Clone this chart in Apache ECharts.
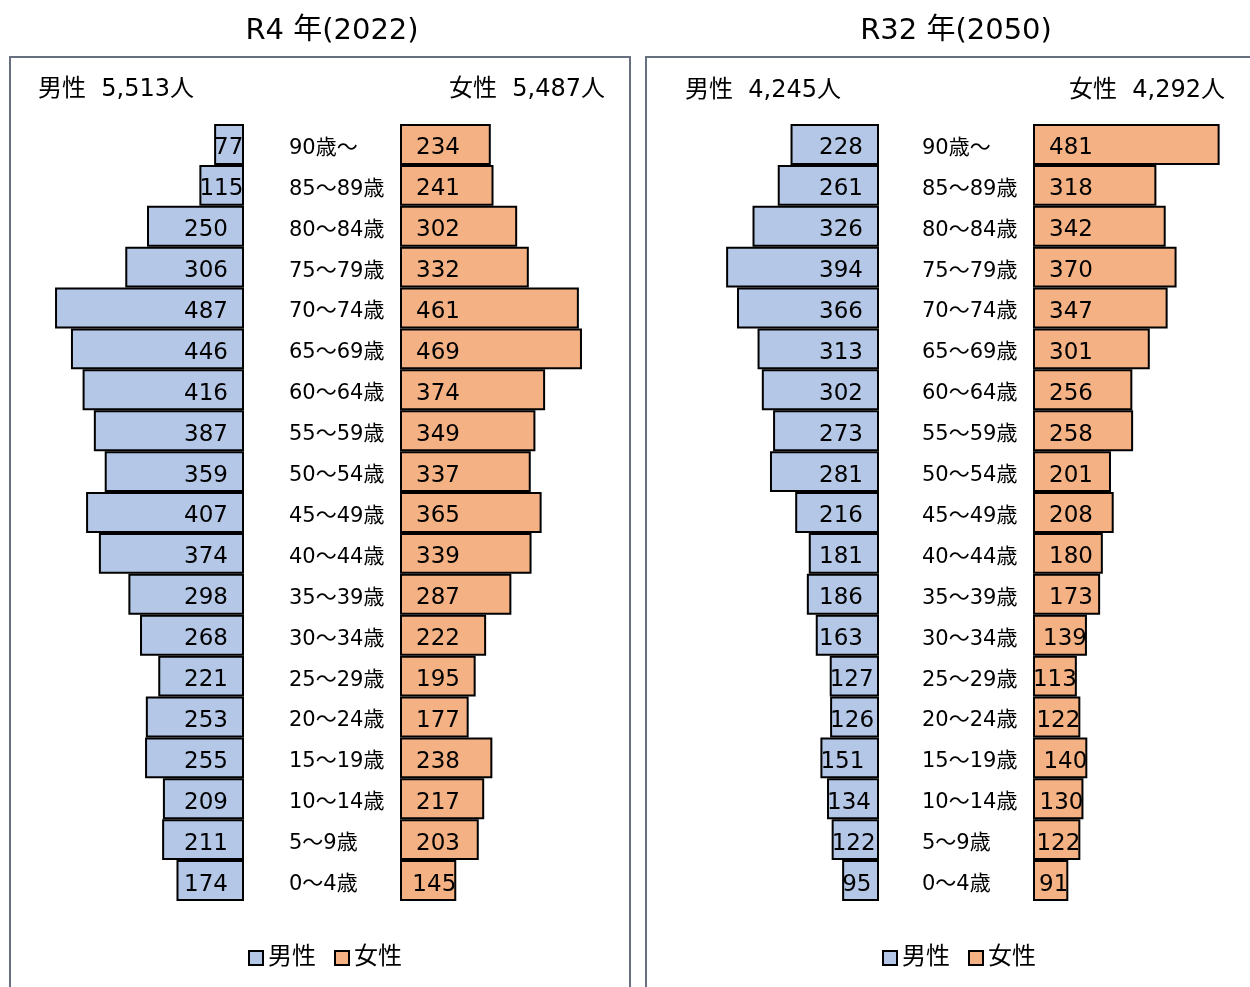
<!DOCTYPE html>
<html>
<head>
<meta charset="utf-8">
<script src="https://cdn.jsdelivr.net/npm/echarts@6/dist/echarts.min.js"></script>
<style>
  html, body { margin: 0; padding: 0; background: #fff; }
  #chart { width: 1250px; height: 987px; }
</style>
</head>
<body>
<div id="chart"></div>
<script>
// Age groups, youngest first (category axis runs bottom-up)
const ageGroups = ['0～4歳','5～9歳','10～14歳','15～19歳','20～24歳','25～29歳','30～34歳',
  '35～39歳','40～44歳','45～49歳','50～54歳','55～59歳','60～64歳','65～69歳','70～74歳',
  '75～79歳','80～84歳','85～89歳','90歳～'];

// Population by age group (youngest first)
const male2022   = [174,211,209,255,253,221,268,298,374,407,359,387,416,446,487,306,250,115,77];
const female2022 = [145,203,217,238,177,195,222,287,339,365,337,349,374,469,461,332,302,241,234];
const male2050   = [95,122,134,151,126,127,163,186,181,216,281,273,302,313,366,394,326,261,228];
const female2050 = [91,122,130,140,122,113,139,173,180,208,201,258,256,301,347,370,342,318,481];

const panelTitles = ['R4 年(2022)', 'R32 年(2050)'];
const sexNames = ['男性', '女性'];

const FONT = "'DejaVu Sans', 'Noto Sans CJK JP', sans-serif";
const MALE_COLOR = '#b4c7e7';
const FEMALE_COLOR = '#f4b183';
const FRAME_COLOR = '#66707f';

const sum = a => a.reduce((s, v) => s + v, 0);
const fmt = n => n.toLocaleString('en-US');

const chart = echarts.init(document.getElementById('chart'));

const TOP = 124, HEIGHT = 777, W = 194, AXIS_MAX = 500;
const LABEL_PAD = 16;   // gap between a value label and the bar's base
const TEXT_DY = 4;      // optical baseline nudge for mixed Latin/CJK text

const grids = [
  { left: 50,   top: TOP, width: W, height: HEIGHT },
  { left: 400,  top: TOP, width: W, height: HEIGHT },
  { left: 685,  top: TOP, width: W, height: HEIGHT },
  { left: 1033, top: TOP, width: W, height: HEIGHT }
];

const xAxes = grids.map((g, i) => ({
  type: 'value', gridIndex: i, min: 0, max: AXIS_MAX, inverse: i % 2 === 0, show: false
}));

// Age labels sit on the female grid's axis, between the two halves of the pyramid
const yAxes = grids.map((g, i) => ({
  type: 'category', gridIndex: i, data: ageGroups,
  axisLine: { show: false }, axisTick: { show: false },
  axisLabel: i % 2 === 1 ? {
    show: true, align: 'left', margin: 111,
    formatter: '{age|{value}}',
    rich: {
      age: { color: '#000', fontSize: 21, fontFamily: FONT, padding: [TEXT_DY * 2, 0, 0, 0] }
    }
  } : { show: false }
}));

// Keep each value label near the bar's base, but inside the bar when it is short
function layoutFor(isMale) {
  return function (params) {
    const r = params.rect, l = params.labelRect;
    const x0 = Math.min(r.x, r.x + r.width), x1 = Math.max(r.x, r.x + r.width);
    const bw = x1 - x0, lw = l.width;
    let left;
    if (lw >= bw) {
      left = x0 + (bw - lw) / 2;
    } else if (isMale) {
      left = Math.max(x1 - LABEL_PAD - lw, x0);
    } else {
      left = Math.min(x0 + LABEL_PAD, x1 - lw);
    }
    return {
      x: left, y: r.y + r.height / 2 + TEXT_DY,
      align: 'left', verticalAlign: 'middle'
    };
  };
}

function barSeries(name, data, idx, isMale) {
  return {
    type: 'bar', name, data, xAxisIndex: idx, yAxisIndex: idx,
    barCategoryGap: '0%',
    itemStyle: { color: isMale ? MALE_COLOR : FEMALE_COLOR, borderColor: '#000', borderWidth: 2 },
    label: {
      show: true, position: isMale ? 'insideRight' : 'insideLeft', distance: LABEL_PAD,
      color: '#000', fontSize: 23, fontFamily: FONT
    },
    labelLayout: layoutFor(isMale),
    emphasis: { disabled: true },
    animation: false
  };
}

const series = [
  barSeries(sexNames[0], male2022, 0, true),
  barSeries(sexNames[1], female2022, 1, false),
  barSeries(sexNames[0], male2050, 2, true),
  barSeries(sexNames[1], female2050, 3, false)
];

const legendBase = {
  data: sexNames, top: 941, itemWidth: 14, itemHeight: 14, itemGap: 18,
  icon: 'rect', selectedMode: false,
  itemStyle: { borderColor: '#000', borderWidth: 2 },
  textStyle: { fontSize: 24, color: '#000', fontFamily: FONT }
};

const headerText = (x, y, text, align) => ({
  type: 'text', x, y,
  style: { text, fill: '#000', font: '24px ' + FONT, align, verticalAlign: 'middle' }
});

const titleStyle = { fontSize: 29, fontWeight: 'normal', color: '#000', fontFamily: FONT };

chart.setOption({
  backgroundColor: '#fff',
  animation: false,
  title: [
    { text: panelTitles[0], left: 327, top: 12, textAlign: 'center', textStyle: titleStyle },
    { text: panelTitles[1], left: 951, top: 12, textAlign: 'center', textStyle: titleStyle }
  ],
  legend: [
    Object.assign({}, legendBase, { left: 243 }),
    Object.assign({}, legendBase, { left: 877 })
  ],
  grid: grids,
  xAxis: xAxes,
  yAxis: yAxes,
  series,
  graphic: [
    { type: 'rect', shape: { x: 10, y: 57, width: 620, height: 960 },
      style: { fill: 'none', stroke: FRAME_COLOR, lineWidth: 2 }, silent: true },
    { type: 'rect', shape: { x: 646, y: 57, width: 640, height: 960 },
      style: { fill: 'none', stroke: FRAME_COLOR, lineWidth: 2 }, silent: true },
    headerText(38, 90, sexNames[0] + '  ' + fmt(sum(male2022)) + '人', 'left'),
    headerText(605, 90, sexNames[1] + '  ' + fmt(sum(female2022)) + '人', 'right'),
    headerText(685, 91, sexNames[0] + '  ' + fmt(sum(male2050)) + '人', 'left'),
    headerText(1225, 91, sexNames[1] + '  ' + fmt(sum(female2050)) + '人', 'right')
  ]
});
</script>
</body>
</html>
